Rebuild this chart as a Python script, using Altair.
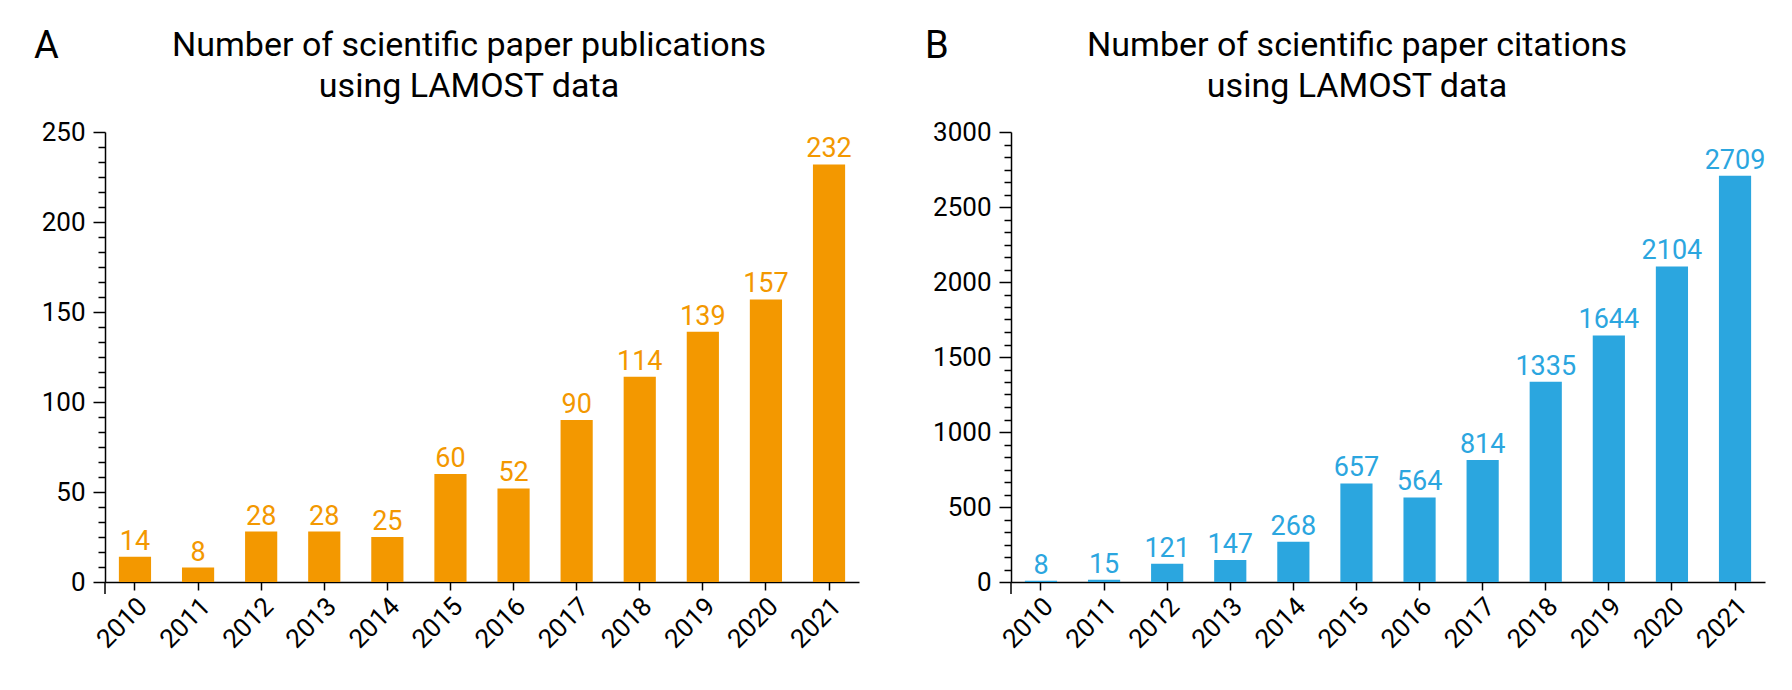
import altair as alt
import pandas as pd

years = ["2010", "2011", "2012", "2013", "2014", "2015",
         "2016", "2017", "2018", "2019", "2020", "2021"]
publications = [14, 8, 28, 28, 25, 60, 52, 90, 114, 139, 157, 232]
citations = [8, 15, 121, 147, 268, 657, 564, 814, 1335, 1644, 2104, 2709]

pub_ticks = [0, 50, 100, 150, 200, 250]
cit_ticks = [0, 500, 1000, 1500, 2000, 2500, 3000]

FONT = "Roboto"
ORANGE = "#F39800"
BLUE = "#2BA6DF"
W, H = 754, 450


def minor_values(major_step, top, n=6):
    # 5 minor ticks between two majors, as in the original figure
    step = major_step / n
    return [i * step for i in range(int(round(top / step)) + 1) if i % n != 0]


def panel(values, ticks, color, letter, title_lines, title_x, letter_x):
    df = pd.DataFrame({"year": years, "value": values})
    top = ticks[-1]
    yscale = alt.Scale(domain=[0, top], nice=False)
    x_enc = alt.X("year:N", sort=years, title=None,
                  scale=alt.Scale(paddingInner=0.49, paddingOuter=0.22),
                  axis=alt.Axis(labelAngle=-45, labelAlign="right", labelBaseline="middle",
                                labelFont=FONT, labelFontSize=26, labelColor="black",
                                labelPadding=12, labelOffset=8, tickSize=8, tickColor="black",
                                tickWidth=1.5, domainColor="black", domainWidth=1.5, grid=False))

    base = alt.Chart(df)
    bars = base.mark_bar(color=color).encode(
        x=x_enc,
        y=alt.Y("value:Q", scale=yscale, title=None,
                axis=alt.Axis(values=ticks, format="d", orient="left", labelFont=FONT,
                              labelFontSize=26, labelColor="black", labelPadding=8, tickSize=12,
                              tickColor="black", tickWidth=1.5, domainColor="black",
                              domainWidth=1.5, grid=False)),
    )
    labels = base.mark_text(color=color, font=FONT, fontSize=27, baseline="alphabetic", dy=-7).encode(
        x=x_enc,
        y=alt.Y("value:Q", scale=yscale, title=None,
                axis=alt.Axis(values=minor_values(ticks[1], top), orient="left", labels=False,
                              domain=False, tickSize=7, tickColor="black", tickWidth=1.5,
                              grid=False)),
        text="value:Q",
    )
    stub = alt.Chart(pd.DataFrame({"k": [0]})).mark_rule(color="black", strokeWidth=1.5).encode(
        x=alt.value(0), y=alt.value(H), y2=alt.value(H + 12)
    )
    tag = alt.Chart(pd.DataFrame({"t": [letter]})).mark_text(
        font=FONT, fontSize=38, align="left", baseline="alphabetic", color="black"
    ).encode(x=alt.value(letter_x), y=alt.value(-74), text="t:N")
    title = alt.Chart(pd.DataFrame({"t": ["\n".join(title_lines)]})).mark_text(
        font=FONT, fontSize=34, align="center", baseline="alphabetic", color="black",
        lineBreak="\n", lineHeight=41
    ).encode(x=alt.value(title_x), y=alt.value(-76), text="t:N")

    return alt.layer(bars, labels, stub, tag, title).resolve_axis(y="independent").properties(
        width=W, height=H
    )


left = panel(publications, pub_ticks, ORANGE, "A",
             ["Number of scientific paper publications", "using LAMOST data"], 364, -71)
right = panel(citations, cit_ticks, BLUE, "B",
              ["Number of scientific paper citations", "using LAMOST data"], 346, -86)

chart = alt.hconcat(left, right, spacing=66).properties(
    padding={"left": 26, "top": 20, "right": 10, "bottom": 10}
).configure(background="white").configure_view(strokeWidth=0)

chart.save("out.html", embed_options={"renderer": "svg", "actions": False})
